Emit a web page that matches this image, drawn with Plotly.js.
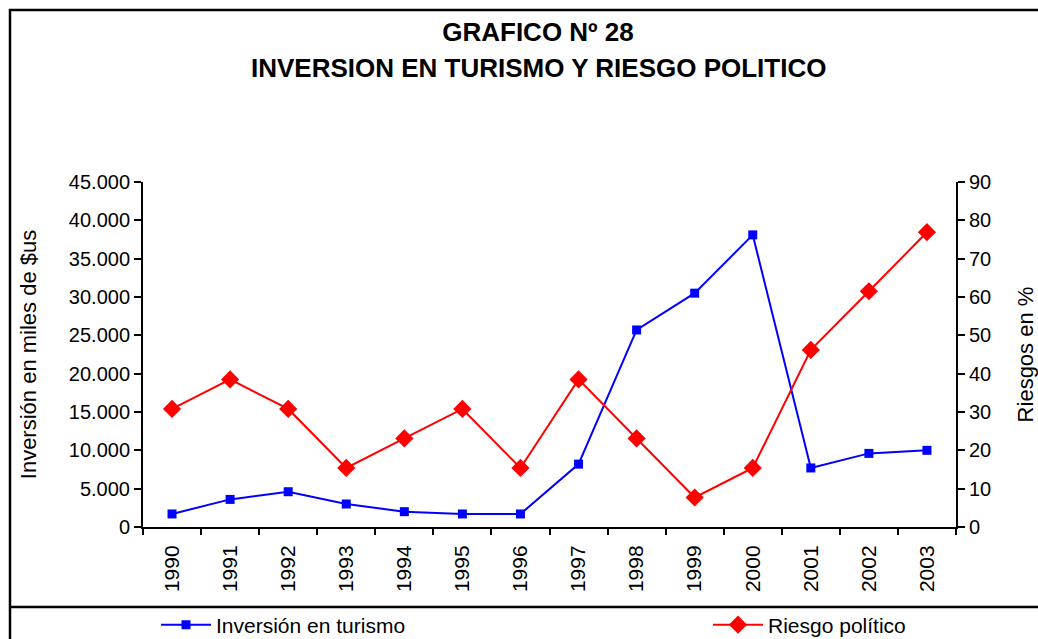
<!DOCTYPE html>
<html>
<head>
<meta charset="utf-8">
<script src="https://cdn.plot.ly/plotly-3.0.1.min.js"></script>
<style>
html,body{margin:0;padding:0;background:#fff;}
#chart{width:1038px;height:639px;}
</style>
</head>
<body>
<div id="chart"></div>
<script>
// ---- data ----
const years = ['1990','1991','1992','1993','1994','1995','1996','1997','1998','1999','2000','2001','2002','2003'];
const inversion = [1700, 3600, 4600, 3000, 2000, 1700, 1700, 8200, 25700, 30500, 38100, 7700, 9600, 10000];
const riesgo = [30.8, 38.5, 30.8, 15.4, 23.1, 30.8, 15.4, 38.5, 23.1, 7.7, 15.4, 46.2, 61.5, 76.9];
const seriesNames = ['Inversión en turismo', 'Riesgo político'];
const chartTitle = 'GRAFICO Nº 28';
const chartSubtitle = 'INVERSION EN TURISMO Y RIESGO POLITICO';
const yLeftTitle = 'Inversión en miles de $us';
const yRightTitle = 'Riesgos en %';

// ---- layout geometry ----
const W = 1038, H = 639;
const M = {l: 143, r: 82, t: 182, b: 112};
const PW = W - M.l - M.r, PH = H - M.t - M.b;
const px = x => (x - M.l) / PW;
const py = y => (H - M.b - y) / PH;

const FONT = 'Liberation Sans, Arial, sans-serif';
const titleFont = {family: FONT, size: 26, color: '#000', weight: 'bold'};

const traces = [
  {
    x: years, y: inversion, name: seriesNames[0], type: 'scatter', mode: 'lines+markers',
    xaxis: 'x', yaxis: 'y',
    line: {color: '#0000FF', width: 2},
    marker: {symbol: 'square', size: 9, color: '#0000FF'},
    legend: 'legend'
  },
  {
    x: years, y: riesgo, name: seriesNames[1], type: 'scatter', mode: 'lines+markers',
    xaxis: 'x', yaxis: 'y2',
    line: {color: '#FF0000', width: 2},
    marker: {symbol: 'diamond', size: 14, color: '#FF0000'},
    legend: 'legend2'
  }
];

const tickFont = {family: FONT, size: 20, color: '#000'};
const axisTitleFont = {family: FONT, size: 22, color: '#000'};

const layout = {
  width: W, height: H,
  margin: M,
  separators: ',.',
  paper_bgcolor: '#fff', plot_bgcolor: 'rgba(0,0,0,0)',
  showlegend: true,
  title: {
    text: chartTitle,
    font: titleFont,
    x: 538 / W, xanchor: 'center', xref: 'container',
    y: 1 - 41 / H, yanchor: 'bottom', yref: 'container', pad: {t: 0, b: 0}
  },
  annotations: [
    {text: chartSubtitle, font: titleFont, showarrow: false,
     xref: 'paper', yref: 'paper', x: px(538), xanchor: 'center', y: py(68), yanchor: 'middle'}
  ],
  xaxis: {
    type: 'category', range: [-0.5, 13.5], fixedrange: true,
    tickson: 'boundaries', ticks: 'outside', ticklen: 6, tickwidth: 2, tickcolor: '#000',
    showline: true, linecolor: '#000', linewidth: 2, showgrid: false, zeroline: false,
    tickangle: -90, tickfont: {family: FONT, size: 21, color: '#000'}, ticklabelstandoff: 8, automargin: false
  },
  xaxis2: {
    overlaying: 'x', anchor: 'y', type: 'linear', range: [-0.5, 13.5],
    tick0: -0.5, dtick: 1, ticks: 'inside', ticklen: 5, tickwidth: 2, tickcolor: '#000',
    showticklabels: false, showline: false, showgrid: false, zeroline: false
  },
  yaxis: {
    range: [0, 45000], dtick: 5000, tickformat: ',d', separatethousands: true,
    ticks: 'outside', ticklen: 7, tickwidth: 2, tickcolor: '#000',
    showline: true, linecolor: '#000', linewidth: 2, showgrid: false, zeroline: false,
    tickfont: tickFont, automargin: false,
    title: {text: yLeftTitle, font: axisTitleFont, standoff: 26}
  },
  yaxis2: {
    overlaying: 'y', side: 'right', anchor: 'x', range: [0, 90], dtick: 10,
    ticks: 'outside', ticklen: 7, tickwidth: 2, tickcolor: '#000',
    showline: true, linecolor: '#000', linewidth: 2, showgrid: false, zeroline: false,
    tickfont: tickFont, automargin: false,
    title: {text: yRightTitle, font: axisTitleFont, standoff: 33}
  },
  yaxis3: {
    overlaying: 'y', side: 'left', anchor: 'x', range: [0, 45000], dtick: 5000,
    ticks: 'inside', ticklen: 6, tickwidth: 2, tickcolor: '#000',
    showticklabels: false, showline: false, showgrid: false, zeroline: false
  },
  yaxis4: {
    overlaying: 'y', side: 'right', anchor: 'x', range: [0, 90], dtick: 10,
    ticks: 'inside', ticklen: 6, tickwidth: 2, tickcolor: '#000',
    showticklabels: false, showline: false, showgrid: false, zeroline: false
  },
  legend: {
    orientation: 'h', xref: 'container', yref: 'container',
    x: 156 / W, xanchor: 'left', y: (H - 625) / H, yanchor: 'middle',
    font: {family: FONT, size: 21, color: '#000'}, bgcolor: 'rgba(0,0,0,0)', itemwidth: 50
  },
  legend2: {
    orientation: 'h', xref: 'container', yref: 'container',
    x: 708 / W, xanchor: 'left', y: (H - 625) / H, yanchor: 'middle',
    font: {family: FONT, size: 21, color: '#000'}, bgcolor: 'rgba(0,0,0,0)', itemwidth: 50
  },
  shapes: [
    {type: 'rect', xref: 'paper', yref: 'paper', x0: px(10), x1: px(1045), y0: py(650), y1: py(10),
     line: {color: '#000', width: 2.5}, fillcolor: 'rgba(0,0,0,0)', layer: 'below'},
    {type: 'line', xref: 'paper', yref: 'paper', x0: px(10), x1: px(1045), y0: py(607), y1: py(607),
     line: {color: '#000', width: 2.5}}
  ]
};

Plotly.newPlot('chart', traces, layout, {staticPlot: true, displayModeBar: false});
</script>
</body>
</html>
